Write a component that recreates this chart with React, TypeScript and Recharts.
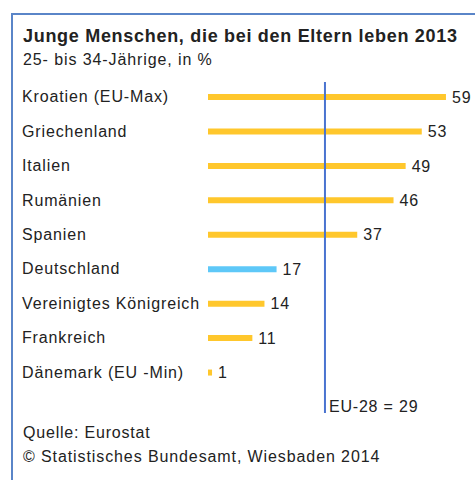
import { BarChart, Bar, XAxis, YAxis, Cell, LabelList, ReferenceLine } from 'recharts';

const countries = [
  'Kroatien (EU-Max)',
  'Griechenland',
  'Italien',
  'Rumänien',
  'Spanien',
  'Deutschland',
  'Vereinigtes Königreich',
  'Frankreich',
  'Dänemark (EU -Min)',
];
const shares = [59, 53, 49, 46, 37, 17, 14, 11, 1];
const highlighted = 'Deutschland';
const euAverage = 29;
const euLabel = 'EU-28 = 29';

const data = countries.map((name, i) => ({ name, value: shares[i] }));

const FONT = '"Liberation Sans", Arial, sans-serif';
const TEXT = '#222';

const CategoryTick = (props: any) => {
  const { y, payload } = props;
  return (
    <text x={22} y={y} dy={5} textAnchor="start" fontSize={16} fill={TEXT} fontFamily={FONT} letterSpacing={0.85}>
      {payload.value}
    </text>
  );
};

// line runs a bit past the plot bottom, label sits next to its lower end
const AverageLine = (props: any) => {
  const { x1, y1, y2 } = props;
  const top = Math.min(y1, y2);
  const bottom = Math.max(y1, y2);
  return (
    <g>
      <line x1={x1} y1={top + 2} x2={x1} y2={bottom + 23} stroke="#4a74d0" strokeWidth={2} />
      <text x={x1 + 4} y={bottom + 22} fontSize={16} fill={TEXT} fontFamily={FONT} letterSpacing={0.8}>
        {euLabel}
      </text>
    </g>
  );
};

export default function App() {
  return (
    <div style={{ position: 'absolute', left: 0, top: 0, width: 475, height: 480, fontFamily: FONT, color: TEXT, overflow: 'hidden', background: '#fff' }}>
      <svg style={{ position: 'absolute', left: 0, top: 0 }} width={475} height={480}>
        <path d="M475 14 H12 V480" fill="none" stroke="#5a85c8" strokeWidth={2} />
      </svg>
      <div style={{ position: 'absolute', left: 23, top: 26, fontSize: 18, lineHeight: '20px', fontWeight: 'bold', letterSpacing: 0.7, whiteSpace: 'nowrap' }}>
        Junge Menschen, die bei den Eltern leben 2013
      </div>
      <div style={{ position: 'absolute', left: 23, top: 51, fontSize: 16, lineHeight: '18px', letterSpacing: 0.9, whiteSpace: 'nowrap' }}>
        25- bis 34-Jährige, in %
      </div>
      <div style={{ position: 'absolute', left: 0, top: 0 }}>
        <BarChart width={475} height={480} data={data} layout="vertical" margin={{ top: 80, right: 25, bottom: 90, left: 0 }}>
          <XAxis type="number" domain={[0, 60]} hide />
          <YAxis type="category" dataKey="name" width={208} axisLine={false} tickLine={false} tick={<CategoryTick />} interval={0} />
          <Bar dataKey="value" barSize={6} isAnimationActive={false}>
            {data.map((d) => (
              <Cell key={d.name} fill={d.name === highlighted ? '#5ec8f8' : '#ffc72c'} />
            ))}
            <LabelList dataKey="value" position="right" offset={6} fontSize={16} fill={TEXT} fontFamily={FONT} letterSpacing={0.8} />
          </Bar>
          <ReferenceLine x={euAverage} shape={<AverageLine />} />
        </BarChart>
      </div>
      <div style={{ position: 'absolute', left: 23, top: 424, fontSize: 16, lineHeight: '18px', letterSpacing: 0.8, whiteSpace: 'nowrap' }}>
        Quelle: Eurostat
      </div>
      <div style={{ position: 'absolute', left: 23, top: 448, fontSize: 16, lineHeight: '18px', letterSpacing: 0.9, whiteSpace: 'nowrap' }}>
        © Statistisches Bundesamt, Wiesbaden 2014
      </div>
    </div>
  );
}
